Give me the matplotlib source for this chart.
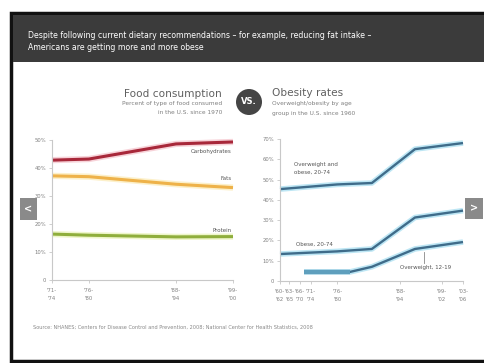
import matplotlib.pyplot as plt
from matplotlib.patches import Rectangle, Circle

# ---- data ----
food_years = [1972.5, 1978, 1991, 1999.5]
food_tick_labels = ["'71-\n'74", "'76-\n'80", "'88-\n'94", "'99-\n'00"]
carbs = [42.8, 43.2, 48.6, 49.3]
fats = [37.2, 36.9, 34.2, 33.0]
protein = [16.4, 16.0, 15.4, 15.5]

obesity_ticks = [1960, 1962.4, 1965.2, 1968.1, 1975, 1991.5, 2002.5, 2008]
obesity_tick_labels = ["'60-\n'62", "'63-\n'65", "'66-\n'70", "'71-\n'74", "'76-\n'80",
                       "'88-\n'94", "'99-\n'02", "'03-\n'06"]
adult_years = [1960, 1975, 1984.1, 1995.4, 2008]
overweight_obese = [45.3, 47.6, 48.3, 65.0, 68.0]
obese = [13.3, 14.6, 15.8, 31.3, 34.7]
teen_years = [1966.3, 1978.4, 1984.1, 1995.4, 2008]
overweight_teens = [4.5, 4.5, 7.0, 15.8, 19.2]

W, H = 484, 363


def fx(px):
    return px / W


def fy(py):
    return 1 - py / H


fig = plt.figure(figsize=(4.84, 3.63), dpi=100)
fig.patch.set_facecolor("white")
bg = fig.add_axes([0, 0, 1, 1])
bg.set_xlim(0, W)
bg.set_ylim(H, 0)
bg.axis("off")

# frame and header band
bg.add_patch(Rectangle((11, 13), 480, 348, facecolor="white", edgecolor="#111111", lw=2.5))
bg.add_patch(Rectangle((13, 15), 471, 47, facecolor="#3b3b3b", edgecolor="none"))
bg.text(28, 35, "Despite following current dietary recommendations \u2013 for example, reducing fat intake \u2013",
        color="white", fontsize=5.6, va="center")
bg.text(28, 47, "Americans are getting more and more obese", color="white", fontsize=5.6, va="center")

# titles
bg.text(222, 94, "Food consumption", ha="right", va="center", fontsize=7.6, color="#606060")
bg.text(222, 104, "Percent of type of food consumed", ha="right", va="center", fontsize=4.2, color="#808080")
bg.text(222, 113, "in the U.S. since 1970", ha="right", va="center", fontsize=4.2, color="#808080")
bg.text(272, 93, "Obesity rates", ha="left", va="center", fontsize=7.6, color="#606060")
bg.text(272, 104, "Overweight/obesity by age", ha="left", va="center", fontsize=4.2, color="#808080")
bg.text(272, 113, "group in the U.S. since 1960", ha="left", va="center", fontsize=4.2, color="#808080")
bg.add_patch(Circle((249, 102), 13, facecolor="#454545", edgecolor="none"))
bg.text(249, 102, "VS.", ha="center", va="center", fontsize=6, color="white", fontweight="bold")

# navigation buttons
bg.add_patch(Rectangle((20, 198), 17, 22, facecolor="#8a8a8a", edgecolor="none"))
bg.text(28.5, 209, "<", ha="center", va="center", fontsize=7, color="white", fontweight="bold")
bg.add_patch(Rectangle((465, 198), 18, 21, facecolor="#8a8a8a", edgecolor="none"))
bg.text(474, 208.5, ">", ha="center", va="center", fontsize=7, color="white", fontweight="bold")

bg.text(33, 327, "Source: NHANES; Centers for Disease Control and Prevention, 2008; National Center for Health Statistics, 2008",
        fontsize=3.6, color="#888888", va="center")


def style_axes(ax):
    for s in ["top", "right"]:
        ax.spines[s].set_visible(False)
    for s in ["left", "bottom"]:
        ax.spines[s].set_color("#c8c8c8")
        ax.spines[s].set_linewidth(0.8)
    ax.tick_params(colors="#c8c8c8", labelcolor="#808080", labelsize=3.8, length=2, width=0.6, pad=2)
    ax.tick_params(axis="x", pad=4)
    ax.set_facecolor("none")


# ---- food consumption ----
ax1 = fig.add_axes([fx(52), fy(280), fx(233) - fx(52), fy(140) - fy(280)])
style_axes(ax1)
for vals, col, halo in [(carbs, "#a8283a", "#f3b6c0"), (fats, "#eeb24a", "#fbe7a8"),
                        (protein, "#8fae3c", "#e4f0a8")]:
    ax1.plot(food_years, vals, color=halo, lw=4.5, solid_capstyle="butt", clip_on=False, alpha=0.6)
    ax1.plot(food_years, vals, color=col, lw=2.2, solid_capstyle="butt", clip_on=False)
ax1.set_xlim(food_years[0], food_years[-1])
ax1.set_ylim(0, 50)
ax1.set_xticks(food_years)
ax1.set_xticklabels(food_tick_labels, linespacing=1.7)
ax1.set_yticks([0, 10, 20, 30, 40, 50])
ax1.set_yticklabels(["0", "10%", "20%", "30%", "40%", "50%"])
ax1.text(1999.3, 45.8, "Carbohydrates", ha="right", va="center", fontsize=4, color="#555555")
ax1.text(1999.3, 36.2, "Fats", ha="right", va="center", fontsize=4, color="#555555")
ax1.text(1999.3, 17.8, "Protein", ha="right", va="center", fontsize=4, color="#555555")

# ---- obesity rates ----
ax2 = fig.add_axes([fx(280), fy(281), fx(463) - fx(280), fy(139) - fy(281)])
style_axes(ax2)
for xs, vals in [(adult_years, overweight_obese), (adult_years, obese), (teen_years, overweight_teens)]:
    ax2.plot(xs, vals, color="#bde6f4", lw=4.0, clip_on=False, solid_capstyle="butt")
    ax2.plot(xs, vals, color="#3f6c8a", lw=1.7, clip_on=False, solid_capstyle="butt")
ax2.plot(teen_years[:2], overweight_teens[:2], color="#5f9fbd", lw=3.2, solid_capstyle="butt", clip_on=False)
ax2.set_xlim(1960, 2008)
ax2.set_ylim(0, 70)
ax2.set_xticks(obesity_ticks)
ax2.set_xticklabels(obesity_tick_labels, linespacing=1.7)
ax2.set_yticks([0, 10, 20, 30, 40, 50, 60, 70])
ax2.set_yticklabels(["0", "10%", "20%", "30%", "40%", "50%", "60%", "70%"])
ax2.text(1963.8, 55.5, "Overweight and\nobese, 20-74", ha="left", va="center", fontsize=4,
         color="#555555", linespacing=1.5)
ax2.text(1964.2, 18.3, "Obese, 20-74", ha="left", va="center", fontsize=4, color="#555555")
ax2.text(1991.5, 6.8, "Overweight, 12-19", ha="left", va="center", fontsize=4, color="#555555")
ax2.plot([1997.8, 1997.8], [9.0, 14.5], color="#888888", lw=0.6)

fig.savefig("out.png", dpi=100)
